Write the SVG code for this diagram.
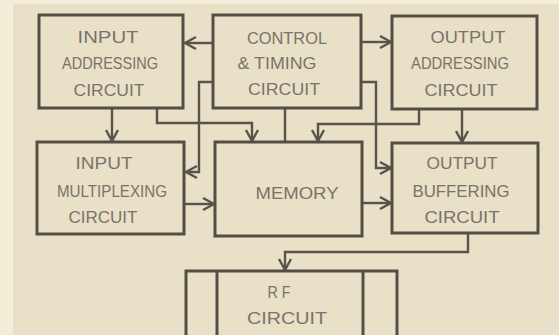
<svg xmlns="http://www.w3.org/2000/svg" width="559" height="335" viewBox="0 0 559 335">
<style>
.box{fill:none;stroke:#554e45;stroke-width:3}
.con{fill:none;stroke:#5a534a;stroke-width:2.4}
.t{font-family:"Liberation Sans",Arial,sans-serif;font-size:16.5px;fill:#7a7368;text-anchor:middle}
</style>
<defs>
<marker id="arr" markerUnits="userSpaceOnUse" markerWidth="14" markerHeight="14" refX="12" refY="7" orient="auto" overflow="visible">
<path d="M1,1 L12,7 L1,13" fill="none" stroke="#5a534a" stroke-width="2.4"/>
</marker>
</defs>
<rect width="559" height="335" fill="#f4eed9"/>
<rect x="13" y="4" width="546" height="331" fill="#e8e0c7"/>
<g id="connectors">
<path class="con" d="M213,43 L185,43" marker-end="url(#arr)"/>
<path class="con" d="M361,42 L391,42" marker-end="url(#arr)"/>
<path class="con" d="M112,108 L112,141" marker-end="url(#arr)"/>
<path class="con" d="M157,108 L157,123 L252,123 L252,141" marker-end="url(#arr)"/>
<path class="con" d="M285,108 L285,142"/>
<path class="con" d="M419,109 L419,124 L318,124 L318,141" marker-end="url(#arr)"/>
<path class="con" d="M462,109 L462,142" marker-end="url(#arr)"/>
<path class="con" d="M213,82 L199,82 L199,172 L186,172" marker-end="url(#arr)"/>
<path class="con" d="M361,82 L376,82 L376,168 L391,168" marker-end="url(#arr)"/>
<path class="con" d="M184,204 L214,204" marker-end="url(#arr)"/>
<path class="con" d="M362,203 L391,203" marker-end="url(#arr)"/>
<path class="con" d="M468,233 L468,252 L285,252 L285,270" marker-end="url(#arr)"/>
</g>
<g id="input-addressing">
<rect class="box" x="39" y="15" width="144" height="93"/>
<text class="t" x="108" y="43" textLength="61" lengthAdjust="spacingAndGlyphs">INPUT</text>
<text class="t" x="110" y="69" textLength="96" lengthAdjust="spacingAndGlyphs">ADDRESSING</text>
<text class="t" x="109" y="96" textLength="71" lengthAdjust="spacingAndGlyphs">CIRCUIT</text>
</g>
<g id="control-timing">
<rect class="box" x="213" y="15" width="148" height="93"/>
<text class="t" x="287" y="44" textLength="80" lengthAdjust="spacingAndGlyphs">CONTROL</text>
<text class="t" x="277" y="69" textLength="79" lengthAdjust="spacingAndGlyphs">&amp; TIMING</text>
<text class="t" x="284" y="95" textLength="72" lengthAdjust="spacingAndGlyphs">CIRCUIT</text>
</g>
<g id="output-addressing">
<rect class="box" x="392" y="16" width="145" height="93"/>
<text class="t" x="468" y="43" textLength="75" lengthAdjust="spacingAndGlyphs">OUTPUT</text>
<text class="t" x="460" y="69" textLength="98" lengthAdjust="spacingAndGlyphs">ADDRESSING</text>
<text class="t" x="461" y="96" textLength="73" lengthAdjust="spacingAndGlyphs">CIRCUIT</text>
</g>
<g id="input-multiplexing">
<rect class="box" x="37" y="142" width="147" height="92"/>
<text class="t" x="104" y="169" textLength="57" lengthAdjust="spacingAndGlyphs">INPUT</text>
<text class="t" x="112" y="197" textLength="110" lengthAdjust="spacingAndGlyphs">MULTIPLEXING</text>
<text class="t" x="103" y="223" textLength="69" lengthAdjust="spacingAndGlyphs">CIRCUIT</text>
</g>
<g id="memory">
<rect class="box" x="215" y="142" width="147" height="94"/>
<text class="t" x="297" y="199" textLength="83" lengthAdjust="spacingAndGlyphs">MEMORY</text>
</g>
<g id="output-buffering">
<rect class="box" x="392" y="143" width="146" height="90"/>
<text class="t" x="462" y="169" textLength="71" lengthAdjust="spacingAndGlyphs">OUTPUT</text>
<text class="t" x="461" y="197" textLength="97" lengthAdjust="spacingAndGlyphs">BUFFERING</text>
<text class="t" x="462" y="223" textLength="75" lengthAdjust="spacingAndGlyphs">CIRCUIT</text>
</g>
<g id="rf-circuit">
<rect class="box" x="186" y="271" width="211" height="80"/>
<line class="box" x1="217" y1="271" x2="217" y2="340"/>
<line class="box" x1="363" y1="271" x2="363" y2="340"/>
<text class="t" x="279" y="298" textLength="23" lengthAdjust="spacingAndGlyphs">R F</text>
<text class="t" x="287" y="324" textLength="80" lengthAdjust="spacingAndGlyphs">CIRCUIT</text>
</g>
</svg>
